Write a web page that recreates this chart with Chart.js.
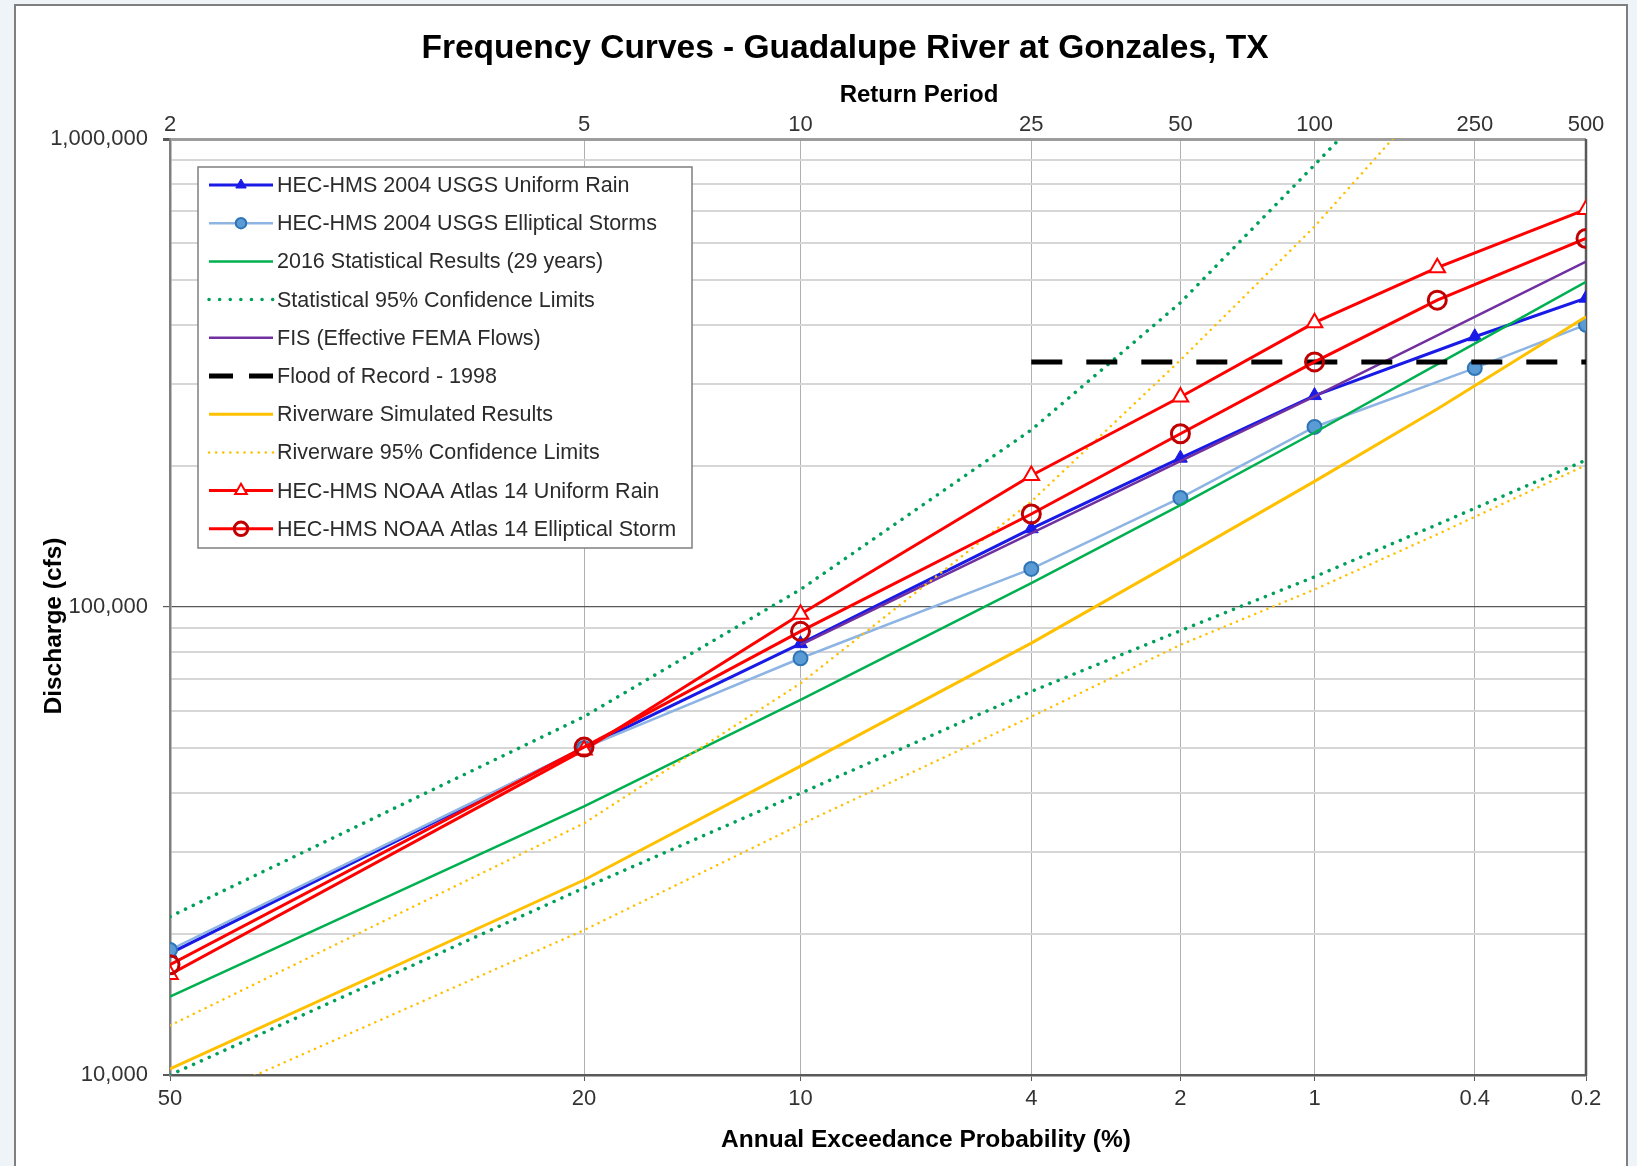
<!DOCTYPE html>
<html>
<head>
<meta charset="utf-8">
<title>Frequency Curves - Guadalupe River at Gonzales, TX</title>
<script src="https://cdn.jsdelivr.net/npm/chart.js@4.4.1/dist/chart.umd.min.js"></script>
<style>
  html, body { margin: 0; padding: 0; background: #eef4f8; overflow: hidden; }
  canvas { display: block; }
</style>
</head>
<body>
<canvas id="chart" width="1637" height="1166"></canvas>
<script>
// Axis ticks: annual exceedance probability (%) on a normal-probability scale
const aepTicks = [50, 20, 10, 4, 2, 1, 0.4, 0.2];
const aepTickLabels = ['50', '20', '10', '4', '2', '1', '0.4', '0.2'];
const returnPeriodLabels = ['2', '5', '10', '25', '50', '100', '250', '500'];
const yGridValues = [10000, 20000, 30000, 40000, 50000, 60000, 70000, 80000, 90000,
  100000, 200000, 300000, 400000, 500000, 600000, 700000, 800000, 900000, 1000000];
const yLabelValues = [10000, 100000, 1000000];

// HEC-HMS 2004 USGS runs
const aepUsgs = [50, 20, 10, 4, 2, 1, 0.4, 0.2];
const usgsUniformRain = [18200, 50000, 83500, 147000, 208000, 283000, 378000, 457000];
const usgsEllipticalStorms = [18500, 50000, 77700, 120600, 171000, 242500, 324000, 401000];

// HEC-HMS NOAA Atlas 14 runs
const aepNoaa = [50, 20, 10, 4, 2, 1, 0.5, 0.2];
const noaaUniformRain = [16400, 49500, 96500, 191000, 281000, 405000, 531000, 707000];
const noaaEllipticalStorm = [17200, 50200, 88700, 158000, 234500, 334000, 452500, 613000];

// statistical / riverware curves
const aepCurve = [50, 20, 10, 4, 2, 1, 0.5, 0.2];
const aepUpper = [50, 20, 10, 4, 2, 1, 0.5];
const stat2016 = [14700, 37500, 63300, 112500, 165000, 236000, 330000, 495000];
const statUpper95 = [21800, 58300, 109000, 239000, 447000, 880000, 1650000];
const statLower95 = [10000, 25100, 40000, 66000, 89000, 116000, 150000, 206000];
const riverwareSim = [10300, 26100, 45700, 83700, 127000, 185500, 265000, 417000];
const riverwareUpper95 = [12760, 34500, 68700, 168000, 337000, 650000, 1280000];
const riverwareLower95 = [8300, 20400, 34300, 58300, 83000, 109000, 143000, 201000];

// FIS effective flows and flood of record
const aepFis = [10, 2, 1, 0.2];
const fisFlows = [83000, 205000, 282000, 547000];
const aepRecord = [4, 0.2];
const floodOfRecord = [334000, 334000];

const FONT = "'Liberation Sans', Arial, sans-serif";

// inverse standard normal (Acklam)
function normInv(p) {
  const a = [-3.969683028665376e+01, 2.209460984245205e+02, -2.759285104469687e+02, 1.383577518672690e+02, -3.066479806614716e+01, 2.506628277459239e+00];
  const b = [-5.447609879822406e+01, 1.615858368580409e+02, -1.556989798598866e+02, 6.680131188771972e+01, -1.328068155288572e+01];
  const c = [-7.784894002430293e-03, -3.223964580411365e-01, -2.400758277161838e+00, -2.549732539343734e+00, 4.374664141464968e+00, 2.938163982698783e+00];
  const d = [7.784695709041462e-03, 3.224671290700398e-01, 2.445134137142996e+00, 3.754408661907416e+00];
  const plow = 0.02425;
  let q, r;
  if (p < plow) {
    q = Math.sqrt(-2 * Math.log(p));
    return (((((c[0]*q+c[1])*q+c[2])*q+c[3])*q+c[4])*q+c[5]) / ((((d[0]*q+d[1])*q+d[2])*q+d[3])*q+1);
  }
  if (p <= 1 - plow) {
    q = p - 0.5; r = q * q;
    return (((((a[0]*r+a[1])*r+a[2])*r+a[3])*r+a[4])*r+a[5])*q / (((((b[0]*r+b[1])*r+b[2])*r+b[3])*r+b[4])*r+1);
  }
  q = Math.sqrt(-2 * Math.log(1 - p));
  return -(((((c[0]*q+c[1])*q+c[2])*q+c[3])*q+c[4])*q+c[5]) / ((((d[0]*q+d[1])*q+d[2])*q+d[3])*q+1);
}
// exceedance probability in percent -> standard normal variate
const aepToZ = p => normInv(1 - p / 100);

function series(label, aep, flows, style) {
  return Object.assign({
    label,
    data: aep.map((p, i) => ({ x: aepToZ(p), y: flows[i] })),
    pointRadius: 0,
    tension: 0,
    fill: false
  }, style);
}

const greenDots = { borderColor: '#00a05a', borderWidth: 3.5, borderDash: [0.1, 8.5], borderCapStyle: 'round', legendDash: [0.1, 10.5] };
const yellowDots = { borderColor: '#ffc000', borderWidth: 2.5, borderDash: [0.1, 6.5], borderCapStyle: 'round', legendDash: [0.1, 7] };

const datasets = [
  series('HEC-HMS 2004 USGS Uniform Rain', aepUsgs, usgsUniformRain, {
    borderColor: '#1a1ae6', borderWidth: 3, order: 10,
    pointStyle: 'triangle', pointRadius: 8, pointBackgroundColor: '#1a1ae6', pointBorderColor: '#1a1ae6', pointBorderWidth: 1
  }),
  series('HEC-HMS 2004 USGS Elliptical Storms', aepUsgs, usgsEllipticalStorms, {
    borderColor: '#8db4e2', borderWidth: 2.5, order: 9,
    pointStyle: 'circle', pointRadius: 7, pointBackgroundColor: '#5b9bd5', pointBorderColor: '#2e75b6', pointBorderWidth: 2
  }),
  series('2016 Statistical Results (29 years)', aepCurve, stat2016, {
    borderColor: '#00b050', borderWidth: 2.5, order: 8
  }),
  series('Statistical 95% Confidence Limits', aepUpper, statUpper95, Object.assign({ order: 7 }, greenDots)),
  series('FIS (Effective FEMA Flows)', aepFis, fisFlows, {
    borderColor: '#7030a0', borderWidth: 2.5, order: 6
  }),
  series('Flood of Record - 1998', aepRecord, floodOfRecord, {
    borderColor: '#000000', borderWidth: 5, borderDash: [31, 24], legendDash: [24, 16], order: 5
  }),
  series('Riverware Simulated Results', aepCurve, riverwareSim, {
    borderColor: '#ffc000', borderWidth: 3, order: 4
  }),
  series('Riverware 95% Confidence Limits', aepUpper, riverwareUpper95, Object.assign({ order: 3 }, yellowDots)),
  series('HEC-HMS NOAA Atlas 14 Uniform Rain', aepNoaa, noaaUniformRain, {
    borderColor: '#ff0000', borderWidth: 3, order: 2,
    pointStyle: 'triangle', pointRadius: 9, pointBackgroundColor: '#ffffff', pointBorderColor: '#ff0000', pointBorderWidth: 2
  }),
  series('HEC-HMS NOAA Atlas 14 Elliptical Storm', aepNoaa, noaaEllipticalStorm, {
    borderColor: '#ff0000', borderWidth: 3, order: 1,
    pointStyle: 'circle', pointRadius: 9, pointBackgroundColor: 'rgba(0,0,0,0)', pointBorderColor: '#c00000', pointBorderWidth: 3
  }),
  // lower confidence limits (no legend entry)
  series('Statistical 95% Lower', aepCurve, statLower95, Object.assign({ order: 7, noLegend: true }, greenDots)),
  series('Riverware 95% Lower', aepCurve, riverwareLower95, Object.assign({ order: 3, noLegend: true }, yellowDots))
];

// light blue page with the white chart panel
const pageBackground = {
  id: 'pageBackground',
  beforeDraw(chart) {
    const ctx = chart.ctx;
    ctx.save();
    ctx.fillStyle = '#eef4f8';
    ctx.fillRect(0, 0, chart.width, chart.height);
    ctx.fillStyle = '#ffffff';
    ctx.fillRect(15, 5, 1612, chart.height);
    ctx.strokeStyle = '#7f7f7f';
    ctx.lineWidth = 2;
    ctx.beginPath();
    ctx.moveTo(15, chart.height);
    ctx.lineTo(15, 5);
    ctx.lineTo(1627, 5);
    ctx.lineTo(1627, chart.height);
    ctx.stroke();
    ctx.restore();
  }
};

// right edge of the plot area
const plotFrame = {
  id: 'plotFrame',
  beforeDatasetsDraw(chart) {
    const { ctx, chartArea: a } = chart;
    ctx.save();
    ctx.strokeStyle = '#595959';
    ctx.lineWidth = 2.5;
    ctx.beginPath();
    ctx.moveTo(a.right, a.top);
    ctx.lineTo(a.right, a.bottom + 1);
    ctx.stroke();
    ctx.restore();
  }
};

function drawMarker(ctx, style, r, x, y) {
  ctx.beginPath();
  if (style === 'triangle') {
    ctx.moveTo(x, y - r);
    ctx.lineTo(x + r * 0.866, y + r * 0.5);
    ctx.lineTo(x - r * 0.866, y + r * 0.5);
    ctx.closePath();
  } else {
    ctx.arc(x, y, r, 0, Math.PI * 2);
  }
  ctx.fill();
  ctx.stroke();
}

// boxed legend inside the plot, like the spreadsheet one
const boxLegend = {
  id: 'boxLegend',
  afterDatasetsDraw(chart) {
    const ctx = chart.ctx;
    const x0 = 198, y0 = 167, w = 494, h = 381, rowH = 38.2;
    ctx.save();
    ctx.fillStyle = '#ffffff';
    ctx.fillRect(x0, y0, w, h);
    ctx.strokeStyle = '#7f7f7f';
    ctx.lineWidth = 1.5;
    ctx.strokeRect(x0, y0, w, h);
    let row = 0;
    chart.data.datasets.forEach(ds => {
      if (ds.noLegend) return;
      const y = y0 + 18 + row * rowH;
      row++;
      ctx.save();
      ctx.strokeStyle = ds.borderColor;
      ctx.lineWidth = ds.borderWidth;
      ctx.lineCap = ds.borderCapStyle || 'butt';
      ctx.setLineDash(ds.legendDash || []);
      ctx.beginPath();
      ctx.moveTo(209, y);
      ctx.lineTo(273, y);
      ctx.stroke();
      ctx.restore();
      if (ds.pointRadius > 0) {
        ctx.save();
        ctx.fillStyle = ds.pointBackgroundColor;
        ctx.strokeStyle = ds.pointBorderColor;
        ctx.lineWidth = ds.pointBorderWidth;
        drawMarker(ctx, ds.pointStyle, ds.pointRadius * 0.75, 241, y);
        ctx.restore();
      }
      ctx.fillStyle = '#2b2b2b';
      ctx.font = `21.5px ${FONT}`;
      ctx.textAlign = 'left';
      ctx.textBaseline = 'middle';
      ctx.fillText(ds.label, 277, y + 1);
    });
    ctx.restore();
  }
};

// chart title and axis titles
const chartTexts = {
  id: 'chartTexts',
  afterDraw(chart) {
    const ctx = chart.ctx;
    ctx.save();
    ctx.fillStyle = '#000000';
    ctx.textAlign = 'center';
    ctx.textBaseline = 'middle';
    ctx.font = `bold 33.5px ${FONT}`;
    ctx.fillText('Frequency Curves - Guadalupe River at Gonzales, TX', 845, 49);
    ctx.font = `bold 24px ${FONT}`;
    ctx.fillText('Return Period', 919, 95);
    ctx.font = `bold 24.5px ${FONT}`;
    ctx.fillText('Annual Exceedance Probability (%)', 926, 1140);
    ctx.translate(54, 626);
    ctx.rotate(-Math.PI / 2);
    ctx.fillText('Discharge (cfs)', 0, 0);
    ctx.restore();
  }
};

const tickFont = { family: FONT, size: 22 };

new Chart(document.getElementById('chart'), {
  type: 'line',
  data: { datasets },
  options: {
    responsive: false,
    animation: false,
    devicePixelRatio: 1,
    events: [],
    layout: { padding: { left: 0, right: 51, top: 0, bottom: 0 } },
    plugins: {
      legend: { display: false },
      title: { display: false },
      tooltip: { enabled: false }
    },
    scales: {
      x: {
        type: 'linear',
        position: 'bottom',
        min: aepToZ(50),
        max: aepToZ(0.2),
        afterFit: s => { s.height = 91; },
        afterBuildTicks: s => { s.ticks = aepTicks.map(p => ({ value: aepToZ(p) })); },
        ticks: {
          autoSkip: false, maxRotation: 0, padding: 5,
          font: tickFont, color: '#333333',
          callback: (v, i) => aepTickLabels[i]
        },
        grid: { color: '#b0b0b0', lineWidth: 1, tickLength: 6, tickColor: '#595959' },
        border: { color: '#595959', width: 2.5 }
      },
      x2: {
        type: 'linear',
        position: 'top',
        min: aepToZ(50),
        max: aepToZ(0.2),
        afterFit: s => { s.height = 139; },
        afterBuildTicks: s => { s.ticks = aepTicks.map(p => ({ value: aepToZ(p) })); },
        ticks: {
          autoSkip: false, maxRotation: 0, padding: -7,
          font: tickFont, color: '#333333',
          callback: (v, i) => returnPeriodLabels[i]
        },
        grid: { display: false },
        border: { display: false }
      },
      y: {
        type: 'logarithmic',
        min: 10000,
        max: 1000000,
        afterFit: s => { s.width = 170; },
        afterBuildTicks: s => { s.ticks = yGridValues.map(v => ({ value: v, major: yLabelValues.includes(v) })); },
        ticks: {
          autoSkip: false, padding: 15,
          font: tickFont, color: '#333333',
          callback: v => yLabelValues.includes(v) ? v.toLocaleString('en-US') : ''
        },
        grid: {
          tickLength: 7,
          color: c => {
            const v = c.tick && c.tick.value;
            if (v === 100000 || v === 10000) return '#595959';
            if (v === 1000000) return '#9c9c9c';
            return '#d6d6d6';
          },
          lineWidth: c => {
            const v = c.tick && c.tick.value;
            if (v === 1000000) return 3;
            if (v === 100000) return 1.2;
            return 2;
          },
          tickColor: c => (c.tick && yLabelValues.includes(c.tick.value)) ? '#595959' : 'rgba(0,0,0,0)'
        },
        border: { color: '#7f7f7f', width: 2.5 }
      }
    }
  },
  plugins: [pageBackground, plotFrame, boxLegend, chartTexts]
});
</script>
</body>
</html>
